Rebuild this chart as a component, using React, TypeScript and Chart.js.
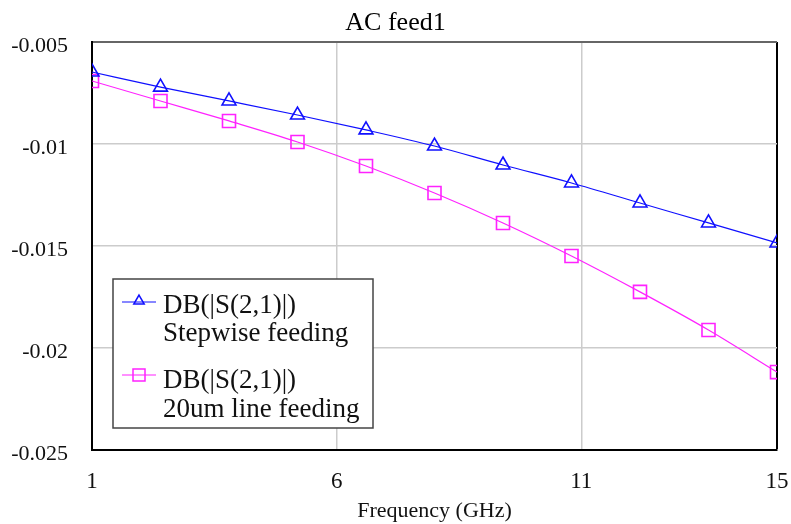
import React, { useEffect, useRef } from "react";
import { Chart, registerables } from "chart.js";

Chart.register(...registerables);

const frequencies = [1, 2.4, 3.8, 5.2, 6.6, 8.0, 9.4, 10.8, 12.2, 13.6, 15];
const stepwiseFeeding = [-0.00647, -0.00721, -0.00789, -0.00858, -0.00931, -0.0101, -0.01103, -0.01191, -0.01289, -0.01387, -0.01485];
const lineFeeding20um = [-0.00691, -0.00789, -0.00887, -0.0099, -0.01108, -0.0124, -0.01387, -0.01549, -0.01725, -0.01912, -0.02118];
const xTickValues = [1, 6, 11, 15];
const yTickValues = [-0.025, -0.02, -0.015, -0.01, -0.005];
const chartTitle = "AC feed1";
const xAxisTitle = "Frequency (GHz)";
const legendLines = [
  ["DB(|S(2,1)|)", "Stepwise feeding"],
  ["DB(|S(2,1)|)", "20um line feeding"],
];

const FONT = "'Liberation Serif', 'Times New Roman', serif";
const BLUE = "#1010ff";
const MAGENTA = "#ff22ff";

const legendPlugin = {
  id: "customLegend",
  afterDraw(chart: any) {
    const ctx = chart.ctx as CanvasRenderingContext2D;
    const bx = 113, by = 279, bw = 260, bh = 149;
    ctx.save();
    ctx.fillStyle = "#ffffff";
    ctx.fillRect(bx, by, bw, bh);
    ctx.strokeStyle = "#444444";
    ctx.lineWidth = 1.5;
    ctx.strokeRect(bx, by, bw, bh);
    const entries = [
      { lineY: 302, textY: [313, 341] },
      { lineY: 375, textY: [388, 417] },
    ];
    chart.data.datasets.forEach((ds: any, i: number) => {
      const e = entries[i];
      ctx.strokeStyle = ds.borderColor;
      ctx.lineWidth = 1.2;
      ctx.beginPath();
      ctx.moveTo(122, e.lineY);
      ctx.lineTo(156, e.lineY);
      ctx.stroke();
      ctx.lineWidth = 1.5;
      ctx.beginPath();
      if (ds.pointStyle === "triangle") {
        const r = 6;
        const cx = 139, cy = e.lineY - 1;
        ctx.moveTo(cx, cy - r);
        ctx.lineTo(cx + r * 0.866, cy + r * 0.5);
        ctx.lineTo(cx - r * 0.866, cy + r * 0.5);
        ctx.closePath();
      } else {
        ctx.rect(133, e.lineY - 6, 12, 12);
      }
      ctx.stroke();
      ctx.fillStyle = "#111111";
      ctx.font = `27px ${FONT}`;
      ctx.textBaseline = "alphabetic";
      ctx.textAlign = "left";
      legendLines[i].forEach((t, j) => ctx.fillText(t, 163, e.textY[j]));
    });
    ctx.restore();
  },
};

export default function App() {
  const ref = useRef<HTMLCanvasElement>(null);
  useEffect(() => {
    if (!ref.current) return;
    const chart = new Chart(ref.current, {
      type: "line",
      data: {
        datasets: [
          {
            label: legendLines[0].join(" "),
            data: frequencies.map((x, i) => ({ x, y: stepwiseFeeding[i] })),
            borderColor: BLUE,
            backgroundColor: "rgba(0,0,0,0)",
            borderWidth: 1.2,
            pointStyle: "triangle",
            pointRadius: 8,
            pointBorderWidth: 1.6,
            pointBorderColor: BLUE,
            pointBackgroundColor: "rgba(0,0,0,0)",
            cubicInterpolationMode: "monotone",
            clip: 0,
          },
          {
            label: legendLines[1].join(" "),
            data: frequencies.map((x, i) => ({ x, y: lineFeeding20um[i] })),
            borderColor: MAGENTA,
            backgroundColor: "rgba(0,0,0,0)",
            borderWidth: 1.2,
            pointStyle: "rect",
            pointRadius: 9.2,
            pointBorderWidth: 1.6,
            pointBorderColor: MAGENTA,
            pointBackgroundColor: "rgba(0,0,0,0)",
            cubicInterpolationMode: "monotone",
            clip: 0,
          },
        ],
      },
      options: {
        responsive: false,
        animation: false,
        layout: { padding: 0 },
        plugins: {
          legend: { display: false },
          tooltip: { enabled: false },
          title: {
            display: true,
            text: chartTitle,
            color: "#000",
            font: { family: FONT, size: 26, weight: "normal", lineHeight: 1.2 },
            padding: { top: 8, bottom: 2.8 },
          },
        },
        scales: {
          x: {
            type: "linear",
            min: 1,
            max: 15,
            afterBuildTicks: (scale: any) => {
              scale.ticks = xTickValues.map((v) => ({ value: v }));
            },
            afterFit: (scale: any) => {
              scale.height = 74;
              scale.paddingRight = 14;
              scale.paddingLeft = 0;
            },
            ticks: {
              color: "#111",
              font: { family: FONT, size: 23 },
              padding: 18,
              maxRotation: 0,
              callback: (v: any) => String(v),
            },
            grid: {
              drawTicks: false,
              color: (c: any) => (c.tick && c.tick.value === 15 ? "#000" : "#cccccc"),
              lineWidth: (c: any) => (c.tick && c.tick.value === 15 ? 2 : 1.5),
            },
            border: { color: "#000", width: 2 },
            title: {
              display: true,
              text: xAxisTitle,
              color: "#111",
              font: { family: FONT, size: 22, lineHeight: 1.2 },
              padding: { top: 0, bottom: 0 },
            },
          },
          y: {
            type: "linear",
            min: -0.025,
            max: -0.005,
            afterBuildTicks: (scale: any) => {
              scale.ticks = yTickValues.map((v) => ({ value: v }));
            },
            afterFit: (scale: any) => {
              scale.width = 92;
            },
            ticks: {
              color: "#111",
              font: { family: FONT, size: 22 },
              padding: 24,
              labelOffset: 4,
              callback: (v: any) => String(Number(Number(v).toFixed(3))),
            },
            grid: {
              drawTicks: false,
              color: (c: any) => (c.tick && Math.abs(c.tick.value + 0.005) < 1e-9 ? "#666" : "#cccccc"),
              lineWidth: (c: any) => (c.tick && Math.abs(c.tick.value + 0.005) < 1e-9 ? 2 : 1.5),
            },
            border: { color: "#000", width: 2 },
          },
        },
      },
      plugins: [legendPlugin],
    } as any);
    return () => chart.destroy();
  }, []);
  return (
    <div style={{ position: "fixed", left: 0, top: 0, width: 791, height: 524, background: "#fff" }}>
      <canvas ref={ref} width={791} height={524} style={{ display: "block" }} />
    </div>
  );
}
